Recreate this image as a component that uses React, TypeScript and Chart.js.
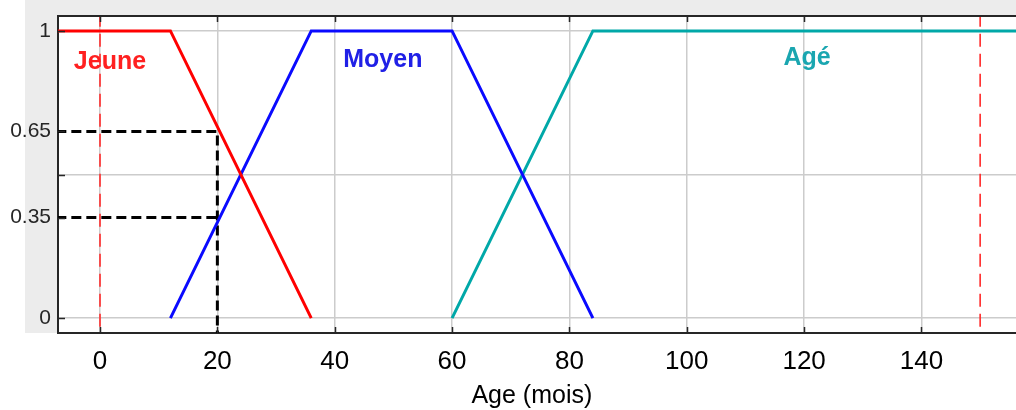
import React, { useEffect, useRef } from "react";
import { Chart, registerables } from "chart.js";

Chart.register(...registerables);

// ---- data ----
const xTicks = [0, 20, 40, 60, 80, 100, 120, 140];
const yTicks = [0, 0.35, 0.5, 0.65, 1];
const yTickLabels = ["0", "0.35", "", "0.65", "1"];
const yGridValues = [0, 0.5, 1];
const xTitle = "Age (mois)";
const xTitleCenter = 73.6;

const jeuneX = [-10, 12, 36];
const jeuneY = [1, 1, 0];
const moyenX = [12, 36, 60, 84];
const moyenY = [0, 1, 1, 0];
const ageX = [60, 84, 170];
const ageY = [0, 1, 1];

const inputAge = 20;
const inputDegrees = [0.65, 0.35];
const limitLines = [0, 150];

const setNames = ["Jeune", "Moyen", "Agé"];
const setLabelX = [1.7, 48.2, 120.5];
const setLabelY = [0.89, 0.9, 0.905];

const X_MIN = -7.16;
const X_MAX = 160.2;
const Y_MIN = -0.052;
const Y_MAX = 1.052;

const FONT = "'Liberation Sans', Arial, sans-serif";

const toPts = (xs: number[], ys: number[]) => xs.map((x, i) => ({ x, y: ys[i] }));

export default function App() {
  const ref = useRef<HTMLCanvasElement | null>(null);

  useEffect(() => {
    if (!ref.current) return;
    const labelColors = ["#ff2020", "#2020e6", "#1aa6b0"];

    const decor = {
      id: "decor",
      beforeDraw(chart: any) {
        const { ctx, chartArea, width, height } = chart;
        ctx.save();
        ctx.fillStyle = "#ffffff";
        ctx.fillRect(0, 0, width, height);
        ctx.fillStyle = "#ececec";
        ctx.fillRect(25, 0, width - 25, chartArea.top);
        ctx.fillRect(25, 0, chartArea.left - 25, chartArea.bottom);
        ctx.restore();
      },
      afterDraw(chart: any) {
        const { ctx, chartArea, scales } = chart;
        const xs = scales.x;
        const ys = scales.y;
        ctx.save();
        ctx.strokeStyle = "#262626";
        ctx.lineWidth = 2;
        ctx.beginPath();
        ctx.moveTo(chartArea.left, chartArea.top);
        ctx.lineTo(chartArea.right, chartArea.top);
        ctx.stroke();
        ctx.lineWidth = 1.5;
        ctx.beginPath();
        xTicks.forEach((v) => {
          const px = Math.round(xs.getPixelForValue(v)) + 0.5;
          ctx.moveTo(px, chartArea.bottom);
          ctx.lineTo(px, chartArea.bottom - 6);
          ctx.moveTo(px, chartArea.top);
          ctx.lineTo(px, chartArea.top + 6);
        });
        yTicks.forEach((v) => {
          const py = Math.round(ys.getPixelForValue(v)) + 0.5;
          ctx.moveTo(chartArea.left, py);
          ctx.lineTo(chartArea.left + 7, py);
        });
        ctx.stroke();
        ctx.font = "bold 25px " + FONT;
        ctx.textAlign = "center";
        ctx.textBaseline = "middle";
        setNames.forEach((n, i) => {
          ctx.fillStyle = labelColors[i];
          ctx.fillText(n, xs.getPixelForValue(setLabelX[i]), ys.getPixelForValue(setLabelY[i]));
        });
        ctx.font = "25px " + FONT;
        ctx.fillStyle = "#000000";
        ctx.fillText(xTitle, xs.getPixelForValue(xTitleCenter), chartArea.bottom + 63);
        ctx.restore();
      },
    };

    const chart = new Chart(ref.current, {
      type: "line",
      data: {
        datasets: [
          {
            label: "limit0",
            data: [
              { x: limitLines[0], y: -0.1 },
              { x: limitLines[0], y: 1.1 },
            ],
            borderColor: "#ff2a2a",
            borderWidth: 1.6,
            borderDash: [13, 7],
            pointRadius: 0,
          },
          {
            label: "limit1",
            data: [
              { x: limitLines[1], y: -0.1 },
              { x: limitLines[1], y: 1.1 },
            ],
            borderColor: "#ff2a2a",
            borderWidth: 1.6,
            borderDash: [13, 7],
            pointRadius: 0,
          },
          {
            label: "Jeune",
            data: toPts(jeuneX, jeuneY),
            borderColor: "#ff0000",
            borderWidth: 3,
            pointRadius: 0,
          },
          {
            label: "Moyen",
            data: toPts(moyenX, moyenY),
            borderColor: "#0a0aff",
            borderWidth: 3,
            pointRadius: 0,
          },
          {
            label: "Agé",
            data: toPts(ageX, ageY),
            borderColor: "#00a8a8",
            borderWidth: 3,
            pointRadius: 0,
          },
          {
            label: "d1",
            data: [
              { x: -10, y: inputDegrees[0] },
              { x: inputAge, y: inputDegrees[0] },
              { x: inputAge, y: -0.1 },
            ],
            borderColor: "#000000",
            borderWidth: 3,
            borderDash: [10, 5],
            pointRadius: 0,
          },
          {
            label: "d2",
            data: [
              { x: -10, y: inputDegrees[1] },
              { x: inputAge, y: inputDegrees[1] },
            ],
            borderColor: "#000000",
            borderWidth: 3,
            borderDash: [10, 5],
            pointRadius: 0,
          },
        ],
      },
      options: {
        animation: false,
        responsive: false,
        maintainAspectRatio: false,
        parsing: false as any,
        layout: { padding: { top: 16, left: 0, right: 0, bottom: 0 } },
        plugins: { legend: { display: false }, tooltip: { enabled: false } },
        scales: {
          x: {
            type: "linear",
            min: X_MIN,
            max: X_MAX,
            afterBuildTicks: (s: any) => {
              s.ticks = xTicks.map((v) => ({ value: v }));
            },
            afterFit: (s: any) => {
              s.height = 77;
              s.paddingLeft = 0;
              s.paddingRight = 0;
            },
            grid: { color: "#cccccc", lineWidth: 1.5, drawTicks: false },
            border: { display: true, color: "#262626", width: 2 },
            ticks: {
              padding: 13,
              color: "#000000",
              font: { family: FONT, size: 26 },
              maxRotation: 0,
              autoSkip: false,
            },
          },
          y: {
            type: "linear",
            min: Y_MIN,
            max: Y_MAX,
            afterBuildTicks: (s: any) => {
              s.ticks = yTicks.map((v) => ({ value: v }));
            },
            afterFit: (s: any) => {
              s.width = 58;
              s.paddingTop = 0;
              s.paddingBottom = 0;
            },
            grid: {
              color: (c: any) =>
                c.tick && yGridValues.includes(c.tick.value) ? "#cccccc" : "rgba(0,0,0,0)",
              lineWidth: 1.5,
              drawTicks: false,
            },
            border: { display: true, color: "#262626", width: 2 },
            ticks: {
              padding: 7,
              color: "#262626",
              font: { family: FONT, size: 21 },
              autoSkip: false,
              callback: (_v: any, i: number) => yTickLabels[i],
            },
          },
        },
      },
      plugins: [decor],
    });
    return () => chart.destroy();
  }, []);

  return (
    <div
      style={{
        position: "absolute",
        left: 0,
        top: 0,
        width: 1016,
        height: 410,
        overflow: "hidden",
        background: "#ffffff",
      }}
    >
      <canvas ref={ref} width={1040} height={410} style={{ width: 1040, height: 410 }} />
    </div>
  );
}
